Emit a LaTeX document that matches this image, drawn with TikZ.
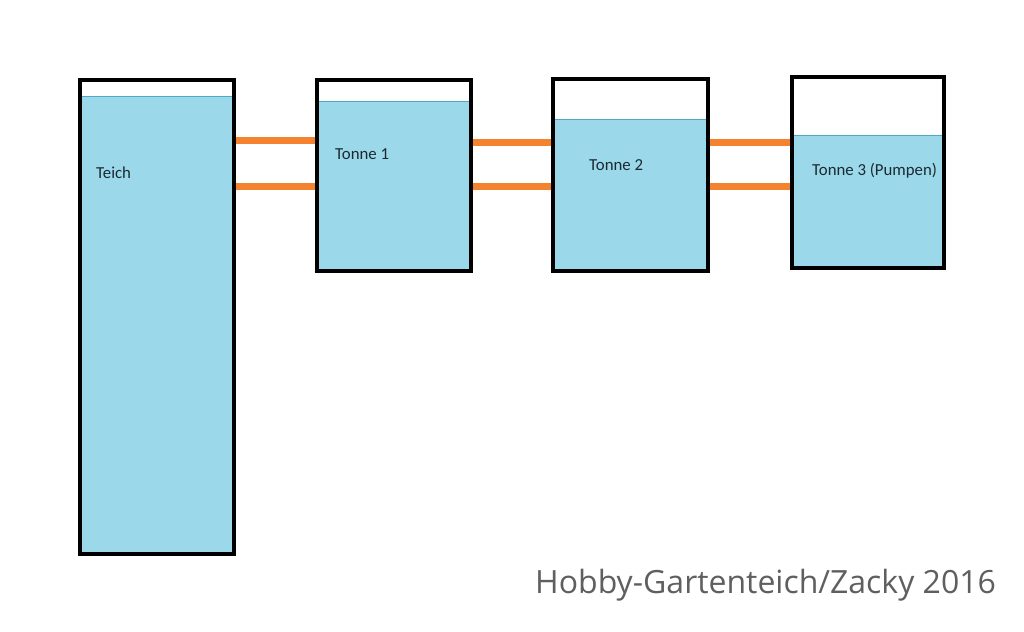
\documentclass[tikz,border=0pt]{standalone}
\usepackage{fontspec}
\setmainfont{Carlito}
\newfontfamily\wmfont{Open Sans}
\usetikzlibrary{backgrounds}
\definecolor{water}{HTML}{9BD8EA}
\definecolor{waterline}{HTML}{4FA9C6}
\definecolor{pipecol}{HTML}{F5822E}
\definecolor{wmcol}{HTML}{5F5F5F}
\definecolor{labcol}{HTML}{1B2A30}
\begin{document}
\begin{tikzpicture}[x=1pt,y=-1pt,
  tank/.style={draw=black,line width=4pt,inner sep=0pt,anchor=north west},
  waterfill/.style={fill=water},
  surface/.style={draw=waterline,line width=1pt},
  pipe/.style={draw=pipecol,line width=7pt,line cap=round},
  lab/.style={font=\fontsize{16.8}{20}\selectfont,text=labcol,anchor=west,inner sep=0pt}]
\useasboundingbox (0,0) rectangle (1024,631);
% tanks
\node[tank,minimum width=154pt,minimum height=474pt] (teich) at (78,78) {};
\node[tank,minimum width=154pt,minimum height=191pt] (t1) at (315,78) {};
\node[tank,minimum width=155pt,minimum height=192pt] (t2) at (551,77) {};
\node[tank,minimum width=152pt,minimum height=191pt] (t3) at (790,75) {};
\begin{scope}[on background layer]
  % water
  \fill[waterfill] (80,97) rectangle (234,554);
  \draw[surface] (80,97) -- (234,97);
  \fill[waterfill] (317,102) rectangle (471,271);
  \draw[surface] (317,102) -- (471,102);
  \fill[waterfill] (553,120) rectangle (708,271);
  \draw[surface] (553,120) -- (708,120);
  \fill[waterfill] (792,136) rectangle (944,268);
  \draw[surface] (792,136) -- (944,136);
  % pipes
  \draw[pipe] (teich.east |- 0,141) -- (t1.west |- 0,141);
  \draw[pipe] (teich.east |- 0,186) -- (t1.west |- 0,186);
  \draw[pipe] (t1.east |- 0,143) -- (t2.west |- 0,143);
  \draw[pipe] (t1.east |- 0,186) -- (t2.west |- 0,186);
  \draw[pipe] (t2.east |- 0,143) -- (t3.west |- 0,143);
  \draw[pipe] (t2.east |- 0,186) -- (t3.west |- 0,186);
\end{scope}
% labels
\node[lab] (lteich) at (96,173) {Teich};
\node[lab] (lt1) at (335,154) {Tonne 1};
\node[lab] (lt2) at (589,165) {Tonne 2};
\node[lab] (lt3) at (812,171) {Tonne 3 (Pumpen)};
% watermark
\node[anchor=base west,inner sep=0pt,text=wmcol,font=\wmfont\fontsize{32}{38}\selectfont] (wm) at (535,593) {Hobby-Gartenteich/Zacky 2016};
\end{tikzpicture}
\end{document}
